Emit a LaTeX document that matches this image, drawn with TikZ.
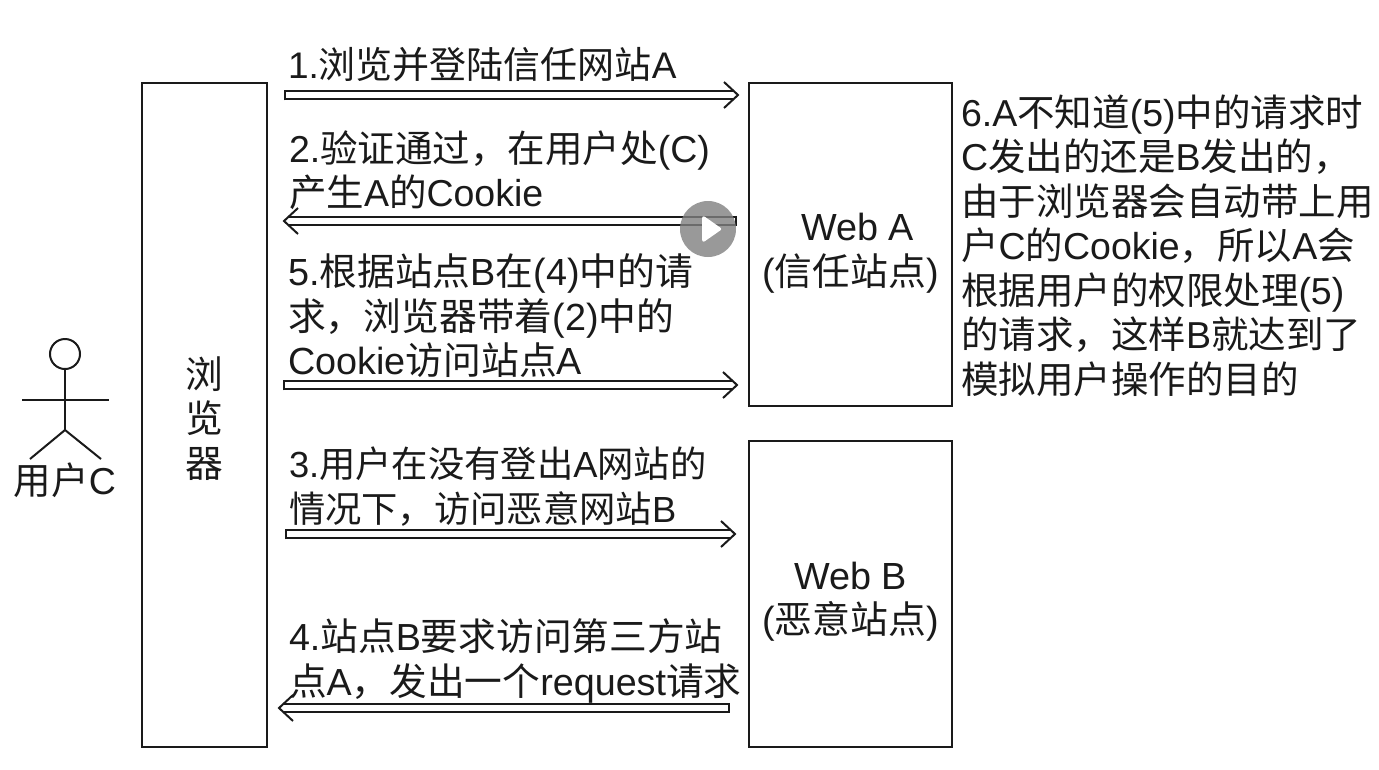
\documentclass[tikz,border=0pt]{standalone}
\usepackage{fontspec}
\usetikzlibrary{arrows.meta,shapes.geometric,calc}
\setmainfont{Liberation Sans}
\newfontfamily\latinf{Liberation Sans}
\newfontfamily\cjkf{Noto Sans CJK SC}
\XeTeXinterchartokenstate=1
\newXeTeXintercharclass\cjkcls
\newcount\cc
\cc="3000 \loop\ifnum\cc<"A000 \XeTeXcharclass\cc=\cjkcls \advance\cc by 1 \repeat
\cc="FF00 \loop\ifnum\cc<"FFF0 \XeTeXcharclass\cc=\cjkcls \advance\cc by 1 \repeat
\XeTeXinterchartoks 0 \cjkcls={\cjkf}
\XeTeXinterchartoks 4095 \cjkcls={\cjkf}
\XeTeXinterchartoks \cjkcls 0={\latinf}
\definecolor{ink}{HTML}{1A1A1A}
\newcommand\hollowarrow[2]{%
  \draw[shaft] (#1) -- ($(#2)!5pt!(#1)$);
  \coordinate (hb) at ($(#2)!14pt!(#1)$);
  \draw[chevron] ($(hb)!13pt!90:(#2)$) -- (#2) -- ($(hb)!13pt!-90:(#2)$);
}
\tikzset{
  box/.style={draw=ink,line width=2pt,fill=white,inner sep=0pt,outer sep=0pt},
  boxtext/.style={inner sep=0pt,outer sep=0pt,align=center,text=ink,font=\fontsize{37.8}{44.5}\selectfont},
  lab/.style={anchor=base west,inner sep=0pt,outer sep=0pt,align=left,text=ink,font=\fontsize{#1}{44.5}\selectfont},
  lab/.default=37,
  shaft/.style={draw=ink,line width=1.8pt,double=white,double distance=6.5pt,{Bar[width=10.5pt,line width=1.8pt]}-},
  chevron/.style={draw=ink,line width=2pt,line join=miter},
  actor/.style={draw=ink,line width=2pt},
}
\begin{document}
\begin{tikzpicture}[x=1pt,y=-1pt]
\useasboundingbox[fill=white] (0,0) rectangle (1379,769);
% boxes
\node[box,minimum width=125pt,minimum height=664pt] (browser) at (204.5,415) {};
\node[box,minimum width=203pt,minimum height=323pt] (webA) at (850.5,244.5) {};
\node[box,minimum width=203pt,minimum height=306pt] (webB) at (850.5,594) {};
\node[boxtext] (browserT) at (204.5,418.5) {浏\\览\\器};
\node[boxtext] (webAT) at (850.5,253) {\hspace*{14pt}Web A\\(信任站点)};
\node[boxtext] (webBT) at (850.5,601.5) {Web B\\(恶意站点)};
% arrow ends
\coordinate (a1s) at (284,95);  \coordinate (a1e) at (738,95);
\coordinate (a2s) at (737,221); \coordinate (a2e) at (284,221);
\coordinate (a5s) at (283,385); \coordinate (a5e) at (737,385);
\coordinate (a3s) at (285,534); \coordinate (a3e) at (735,534);
\coordinate (a4s) at (730,708); \coordinate (a4e) at (279,708);
\hollowarrow{a1s}{a1e}
\hollowarrow{a2s}{a2e}
\hollowarrow{a5s}{a5e}
\hollowarrow{a3s}{a3e}
\hollowarrow{a4s}{a4e}
% labels
\node[lab=37] (t1) at (288,78) {1.浏览并登陆信任网站A};
\node[lab=37.5] (t2) at (289,206.5) {2.验证通过，在用户处(C)\\产生A的Cookie};
\node[lab=37.8] (t5) at (288,374.5) {5.根据站点B在(4)中的请\\求，浏览器带着(2)中的\\Cookie访问站点A};
\node[lab=36.3] (t3) at (289,522) {3.用户在没有登出A网站的\\情况下，访问恶意网站B};
\node[lab=37.7] (t4) at (289,695) {4.站点B要求访问第三方站\\点A，发出一个request请求};
\node[lab=37.5] (t6) at (961,393) {6.A不知道(5)中的请求时\\C发出的还是B发出的，\\由于浏览器会自动带上用\\户C的Cookie，所以A会\\根据用户的权限处理(5)\\的请求，这样B就达到了\\模拟用户操作的目的};
% actor
\node[draw=ink,line width=2pt,circle,minimum size=30pt,inner sep=0pt,outer sep=0pt] (head) at (65,354) {};
\coordinate (hip) at (65,430);
\coordinate (armL) at (22,400); \coordinate (armR) at (109,400);
\coordinate (legL) at (30,459); \coordinate (legR) at (101,459);
\draw[actor] (head.south) -- (hip);
\draw[actor] (armL) -- (armR);
\draw[actor] (legL) -- (hip) -- (legR);
\node[lab=37.5,anchor=base] (user) at (65,494) {用户C};
% play overlay
\node[circle,fill=black!50,fill opacity=.8,minimum size=56pt,inner sep=0pt] (play) at (708,229) {};
\node[isosceles triangle,isosceles triangle apex angle=70,fill=white,draw=white,line width=3pt,line join=round,minimum height=16pt,minimum width=18pt,inner sep=0pt] (tri) at (709.5,229) {};
\end{tikzpicture}
\end{document}
